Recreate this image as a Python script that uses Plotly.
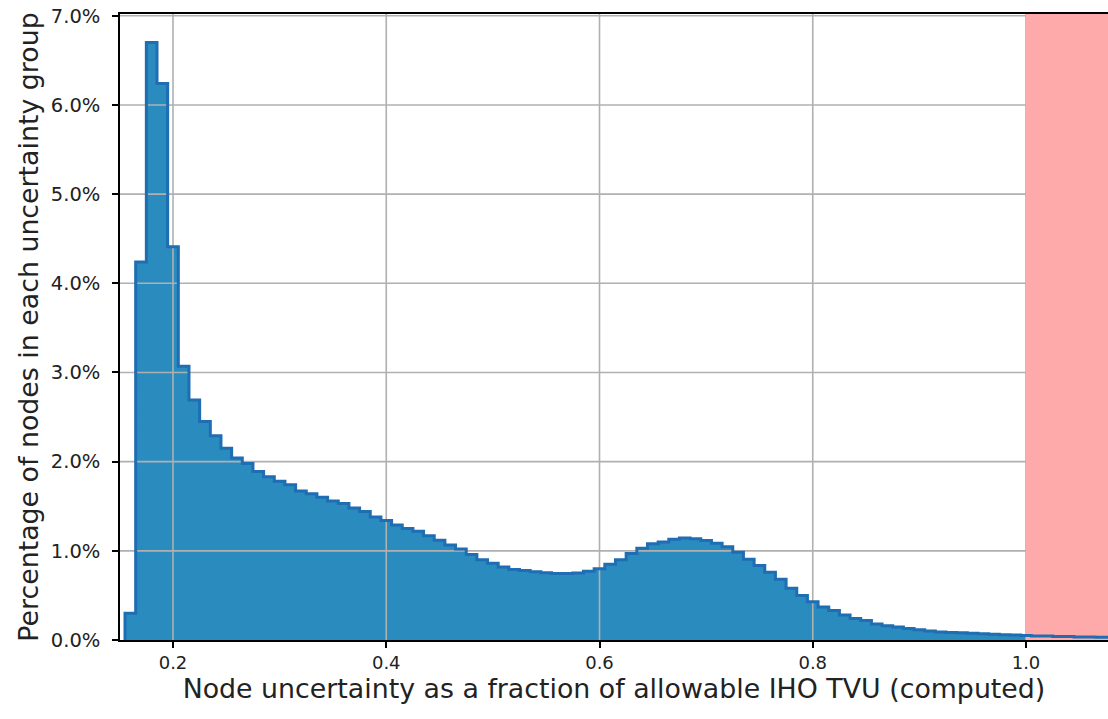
import numpy as np
import plotly.graph_objs as go

# histogram of node uncertainty / allowable TVU, bins of 0.01 starting at 0.155
bin_start = 0.155
bin_width = 0.01
pct_nodes = [
    0.30, 4.24, 6.70, 6.24, 4.41, 3.07, 2.69, 2.45, 2.29, 2.15,
    2.04, 1.98, 1.89, 1.83, 1.78, 1.74, 1.67, 1.64, 1.60, 1.56,
    1.53, 1.48, 1.44, 1.38, 1.34, 1.29, 1.25, 1.22, 1.17, 1.12,
    1.065, 1.02, 0.96, 0.90, 0.86, 0.82, 0.79, 0.78, 0.765, 0.755,
    0.745, 0.745, 0.75, 0.77, 0.80, 0.85, 0.90, 0.97, 1.03, 1.08,
    1.10, 1.13, 1.145, 1.135, 1.115, 1.085, 1.045, 0.985, 0.905, 0.835,
    0.76, 0.68, 0.58, 0.50, 0.43, 0.37, 0.33, 0.28, 0.24, 0.22,
    0.18, 0.16, 0.145, 0.13, 0.115, 0.10, 0.09, 0.085, 0.08, 0.075,
    0.07, 0.065, 0.06, 0.055, 0.05, 0.045, 0.045, 0.04, 0.04, 0.035,
    0.035, 0.03, 0.03,
]

x_ticks = [0.2, 0.4, 0.6, 0.8, 1.0]
y_ticks = [0, 1, 2, 3, 4, 5, 6, 7]
y_tick_labels = ["%.1f%%" % t for t in y_ticks]
x_range = [0.1503, 1.0769]
y_range = [0, 7.02]
tvu_limit = 1.0

FONT = "DejaVu Sans"
GRID = "#b0b0b0"


def plot_uncertainty_hist():
    vals = np.array(pct_nodes)
    edges = bin_start + bin_width * np.arange(len(vals) + 1)
    step_y = np.append(vals, vals[-1])

    fig = go.Figure()

    # filled area (no outline)
    fig.add_trace(go.Scatter(
        x=edges, y=step_y, mode="lines", line_shape="hv",
        line=dict(width=0, color="#2a8bbf"),
        fill="tozeroy", fillcolor="#2a8bbf", hoverinfo="skip"
    ))

    # grid lines drawn as traces so they sit over the fill
    gx, gy = [], []
    for t in x_ticks:
        gx += [t, t, None]
        gy += [y_range[0], y_range[1], None]
    for t in y_ticks[1:]:
        gx += [x_range[0], x_range[1], None]
        gy += [t, t, None]
    fig.add_trace(go.Scatter(
        x=gx, y=gy, mode="lines", line=dict(color=GRID, width=1.6),
        hoverinfo="skip"
    ))

    # area beyond the allowable TVU
    fig.add_trace(go.Scatter(
        x=[tvu_limit, x_range[1], x_range[1], tvu_limit, tvu_limit],
        y=[y_range[0], y_range[0], y_range[1], y_range[1], y_range[0]],
        mode="lines", line=dict(width=0), fill="toself",
        fillcolor="#ffaaaa", hoverinfo="skip"
    ))

    # step outline on top
    fig.add_trace(go.Scatter(
        x=np.insert(edges, 0, edges[0]), y=np.insert(step_y, 0, 0.0),
        mode="lines", line_shape="hv",
        line=dict(color="#1f6db3", width=3), hoverinfo="skip"
    ))

    fig.update_layout(
        width=1108, height=719,
        margin=dict(l=120, r=0, t=14, b=79),
        paper_bgcolor="white", plot_bgcolor="white",
        showlegend=False,
        font=dict(family=FONT, size=18, color="#222222"),
    )
    fig.update_xaxes(
        range=x_range, tickvals=x_ticks, tickformat=".1f",
        showgrid=False, zeroline=False, automargin=False,
        showline=True, linecolor="black", linewidth=1.5, mirror=True,
        ticks="outside", ticklen=6, tickwidth=1.5, tickcolor="black",
        ticklabeloverflow="allow",
        title=dict(text="Node uncertainty as a fraction of allowable IHO TVU (computed)",
                   font=dict(size=26.8), standoff=4),
    )
    fig.update_yaxes(
        range=y_range, tickvals=y_ticks, ticktext=y_tick_labels,
        showgrid=False, zeroline=False, automargin=False,
        showline=True, linecolor="black", linewidth=1.5,
        ticks="outside", ticklen=6, tickwidth=1.5, tickcolor="black",
        tickfont=dict(size=19.5), ticklabelstandoff=8,
        ticklabeloverflow="allow",
        title=dict(text="Percentage of nodes in each uncertainty group",
                   font=dict(size=26.8), standoff=4),
    )
    return fig


fig = plot_uncertainty_hist()
# drop the default page margin so the figure fills the window exactly
fig.write_html("out.html", config={"displayModeBar": False},
               post_script="document.body.style.margin = '0';")
